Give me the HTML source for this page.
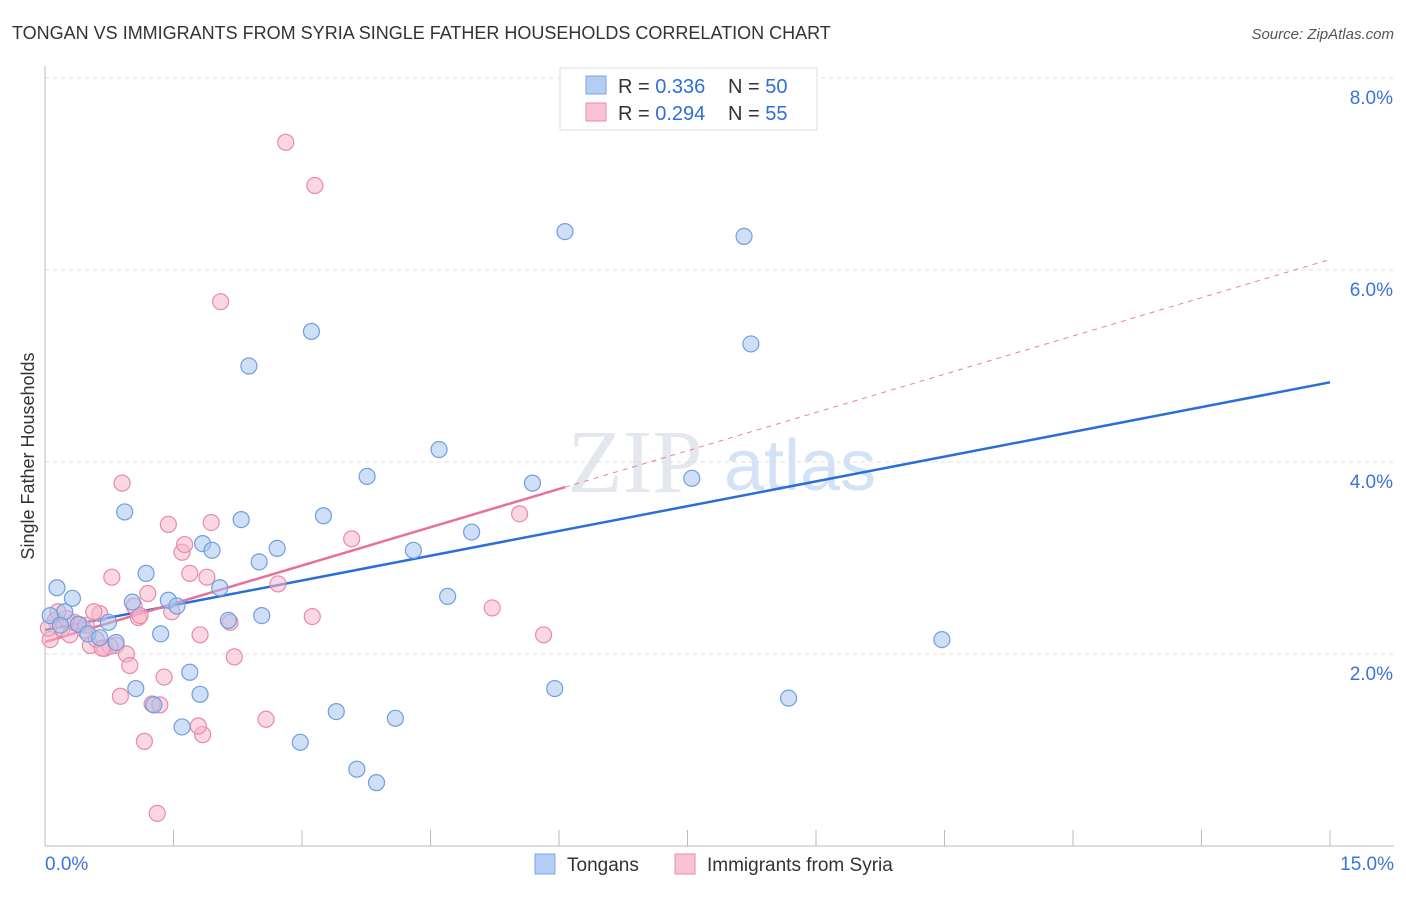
<!DOCTYPE html>
<html><head><meta charset="utf-8"><style>
body{margin:0;background:#fff;font-family:"Liberation Sans",sans-serif;}
#c{position:relative;width:1406px;height:892px;}
</style></head><body>
<div id="c">
<svg width="1406" height="892" xmlns="http://www.w3.org/2000/svg">
<text x="12" y="39" font-size="18" fill="#333">TONGAN VS IMMIGRANTS FROM SYRIA SINGLE FATHER HOUSEHOLDS CORRELATION CHART</text>
<text x="1394" y="39" font-size="15" fill="#555" font-style="italic" text-anchor="end">Source: ZipAtlas.com</text>
<text x="34" y="456" font-size="18" fill="#333" text-anchor="middle" transform="rotate(-90 34 456)">Single Father Households</text>
<text x="635" y="492" font-size="90" fill="#e4e8ee" font-family="Liberation Serif" text-anchor="middle">ZIP</text>
<text x="800" y="490" font-size="72" fill="#d3e2f5" text-anchor="middle">atlas</text>
<g id="grid"></g>
<g id="axes"></g>
<g id="lines"></g>
<g id="pts"></g>
<g>
<rect x="560" y="68" width="257" height="62" fill="#fff" stroke="#ddd"/>
<rect x="586" y="76" width="20" height="18" fill="#b3cdf3" stroke="#7aa4e3"/>
<text x="618" y="93" font-size="20" fill="#333">R = <tspan fill="#2f6fd6">0.336</tspan></text>
<text x="728" y="93" font-size="20" fill="#333">N = <tspan fill="#2f6fd6">50</tspan></text>
<rect x="586" y="103" width="20" height="18" fill="#f8c3d3" stroke="#ea8dab"/>
<text x="618" y="120" font-size="20" fill="#333">R = <tspan fill="#2f6fd6">0.294</tspan></text>
<text x="728" y="120" font-size="20" fill="#333">N = <tspan fill="#2f6fd6">55</tspan></text>
</g>
<g>
<rect x="535" y="854" width="20" height="20" fill="#b3cdf3" stroke="#7aa4e3"/>
<text x="567" y="871" font-size="19" fill="#333">Tongans</text>
<rect x="675" y="854" width="20" height="20" fill="#f8c3d3" stroke="#ea8dab"/>
<text x="707" y="871" font-size="19" fill="#333">Immigrants from Syria</text>
</g>
</svg>
</div>
<script>
const yTicks=[2,4,6,8];
const xTickLabels=["0.0%","15.0%"];
const blueX=[0.14,0.23,0.32,0.39,0.5,0.64,0.74,0.83,0.93,1.02,1.06,1.18,1.27,1.35,1.44,1.54,1.6,1.69,1.81,1.84,1.95,2.04,2.14,2.29,2.38,2.5,2.53,2.71,2.98,3.11,3.25,3.4,3.64,3.76,3.87,4.09,4.3,4.6,4.7,4.98,5.69,5.95,6.07,7.55,8.16,8.24,8.68,10.47,0.06,0.18];
const blueY=[2.69,2.44,2.58,2.31,2.21,2.17,2.33,2.12,3.48,2.54,1.64,2.84,1.47,2.21,2.56,2.5,1.24,1.81,1.58,3.15,3.08,2.69,2.35,3.4,5.0,2.96,2.4,3.1,1.08,5.36,3.44,1.4,0.8,3.85,0.66,1.33,3.08,4.13,2.6,3.27,3.78,1.64,6.4,3.83,6.35,5.23,1.54,2.15,2.4,2.3];
const pinkX=[0.06,0.12,0.2,0.29,0.41,0.53,0.64,0.7,0.78,0.83,0.88,0.9,0.95,0.99,1.04,1.09,1.16,1.2,1.25,1.31,1.34,1.39,1.44,1.48,1.6,1.63,1.69,1.81,1.84,1.89,1.94,2.05,2.16,2.21,2.58,2.72,2.81,3.12,3.15,3.58,5.22,5.54,5.82,1.79,0.57,0.34,0.46,0.25,0.15,0.04,1.11,0.76,0.6,0.48,0.67];
const pinkY=[2.15,2.35,2.27,2.2,2.3,2.09,2.42,2.06,2.8,2.09,1.56,3.78,2.0,1.88,2.5,2.38,1.09,2.63,1.48,0.34,1.47,1.76,3.35,2.44,3.06,3.14,2.84,2.2,1.16,2.8,3.37,5.67,2.33,1.97,1.32,2.73,7.33,2.39,6.88,3.2,2.48,3.46,2.2,1.25,2.44,2.33,2.25,2.37,2.44,2.27,2.4,2.08,2.15,2.3,2.06];
const blueFit=[2.25,4.83];
const pinkFit=[2.125,6.11];
const NS="http://www.w3.org/2000/svg";
const X=v=>45+v*(1285/15), Y=v=>846-v*96;
function mk(t,a,p){const e=document.createElementNS(NS,t);for(const k in a)e.setAttribute(k,a[k]);p.appendChild(e);return e;}
const grid=document.getElementById('grid'),axes=document.getElementById('axes'),lines=document.getElementById('lines'),pts=document.getElementById('pts');
yTicks.forEach(t=>{const l=mk('line',{x1:45,x2:1394,y1:Y(t),y2:Y(t),stroke:'#ddd','stroke-dasharray':'4 4'},grid);


const tx=mk('text',{x:1393,y:Y(t)+26,'font-size':19,fill:'#3b74d9','text-anchor':'end'},axes);tx.textContent=t.toFixed(1)+'%';

});
const ax=mk('line',{x1:45,x2:1394,y1:846,y2:846,stroke:'#bbb'},axes);


const ay=mk('line',{x1:45,x2:45,y1:66,y2:846,stroke:'#bbb'},axes);


for(let i=1;i<=10;i++){const t=mk('line',{x1:X(i*1.5),x2:X(i*1.5),y1:830,y2:846,stroke:'#bbb'},axes);

}
[[0,45,'start'],[15,1394,'end']].forEach((d,i)=>{const t=mk('text',{x:d[1],y:870,'font-size':19,fill:'#3b74d9','text-anchor':d[2]},axes);t.textContent=xTickLabels[i];

});
function dots(xs,ys,f,s,n){xs.forEach((x,i)=>{const c=mk('circle',{cx:X(x),cy:Y(ys[i]),r:8,fill:f,'fill-opacity':0.55,stroke:s,'stroke-width':1.2},pts);

});}
dots(pinkX,pinkY,'#f6b6ca','#e98aa8','syria-point');
dots(blueX,blueY,'#a6c4ef','#6f9ee2','tongan-point');
const bl=mk('line',{x1:X(0),y1:Y(blueFit[0]),x2:X(15),y2:Y(blueFit[1]),stroke:'#2a6fd6','stroke-width':2.5},lines);


const pm=v=>pinkFit[0]+(pinkFit[1]-pinkFit[0])*v/15;
const pd=mk('line',{x1:X(6.07),y1:Y(pm(6.07)),x2:X(15),y2:Y(pm(15)),stroke:'#e8809f','stroke-width':1,'stroke-dasharray':'5 5'},lines);


const ps=mk('line',{x1:X(0),y1:Y(pm(0)),x2:X(6.07),y2:Y(pm(6.07)),stroke:'#e8709a','stroke-width':2.5},lines);


</script>
</body></html>
